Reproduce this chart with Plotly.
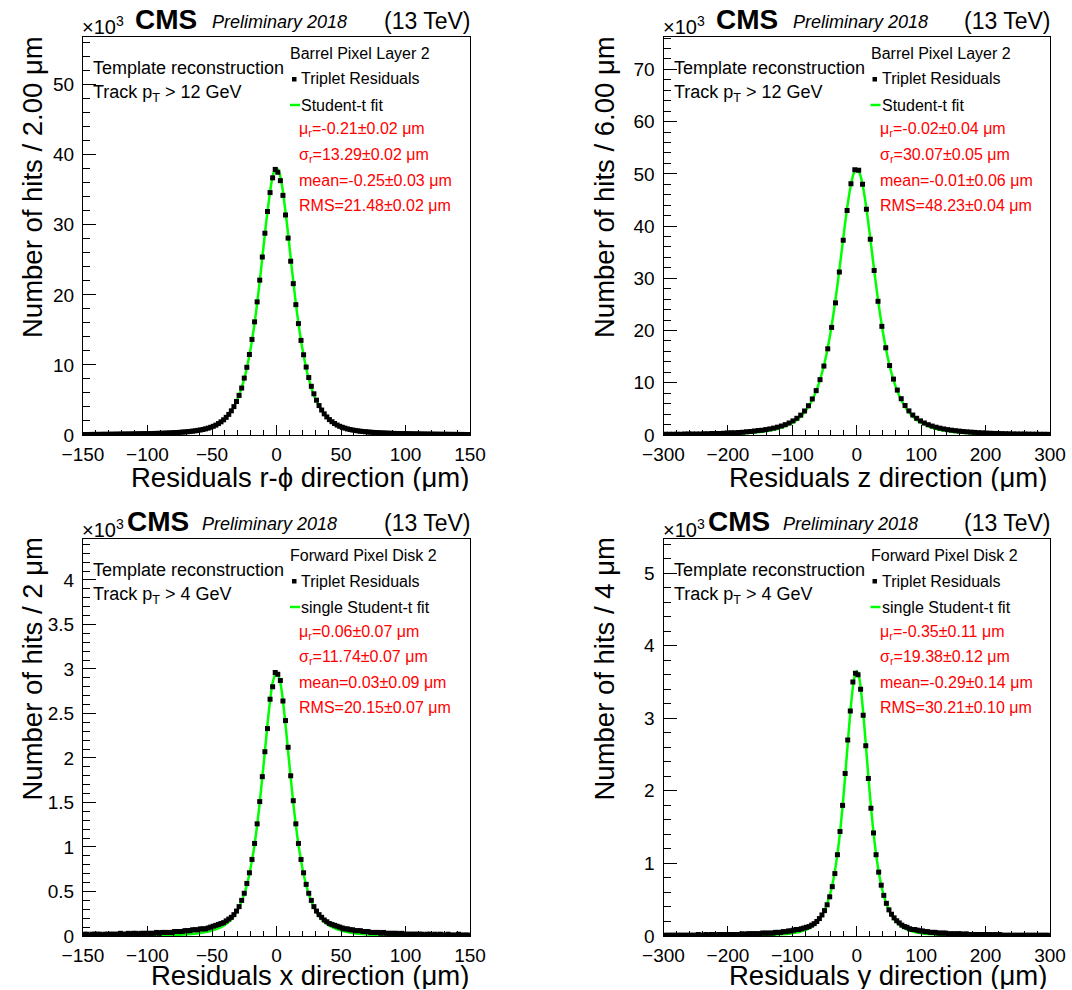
import numpy as np
import plotly.graph_objects as go

# ---------------- data (counts in units of 10^3 hits) ----------------
# Barrel layer 2, r-phi residuals: 150 bins of 2 um in [-150,150]
rphi_bin = (-150.0, 150.0, 2.0)
rphi_counts = [
    0.07, 0.07, 0.08, 0.08, 0.09, 0.09, 0.09, 0.10, 0.10, 0.10,
    0.11, 0.11, 0.12, 0.12, 0.13, 0.13, 0.14, 0.14, 0.15, 0.15,
    0.16, 0.17, 0.18, 0.19, 0.19, 0.20, 0.21, 0.22, 0.23, 0.24,
    0.25, 0.26, 0.28, 0.29, 0.31, 0.33, 0.35, 0.38, 0.41, 0.44,
    0.47, 0.51, 0.55, 0.60, 0.66, 0.72, 0.79, 0.88, 0.98,
    1.10, 1.24, 1.41, 1.63, 1.88, 2.17, 2.52, 2.94, 3.45, 4.05,
    4.78, 5.65, 6.70, 8.12, 9.66, 11.49, 13.64, 16.15, 19.00, 22.10,
    25.40, 28.80, 31.90, 34.60, 36.70, 37.90,
    37.50, 36.30, 34.20, 31.40, 28.10, 24.80, 21.60, 18.60, 15.90, 13.50,
    11.45, 9.70, 8.20, 6.95, 5.88, 4.97, 4.20, 3.56, 3.02, 2.58,
    2.20, 1.90, 1.64, 1.42, 1.24, 1.10,
    0.98, 0.87, 0.78, 0.71, 0.65, 0.59, 0.54, 0.50, 0.46, 0.43,
    0.40, 0.37, 0.35, 0.32, 0.30, 0.29, 0.27, 0.26, 0.24, 0.23,
    0.22, 0.21, 0.20, 0.19, 0.19, 0.18, 0.17, 0.16, 0.16, 0.15,
    0.14, 0.14, 0.13, 0.13, 0.12, 0.12, 0.11, 0.11, 0.10, 0.10,
    0.10, 0.09, 0.09, 0.09, 0.08, 0.08, 0.08, 0.07, 0.07,
]
rphi_fit_x = [-150, -120, -100, -80, -70, -60, -50, -44, -40, -36, -32, -28, -24, -20, -16, -12, -8, -4, -2,
              0, 2, 4, 8, 12, 16, 20, 24, 28, 32, 36, 40, 44, 50, 60, 70, 80, 100, 120, 150]
rphi_fit_y = [0.02, 0.048, 0.096, 0.22, 0.36, 0.63, 1.17, 1.76, 2.36, 3.21, 4.43, 6.20, 8.75, 12.37, 17.32, 23.56, 30.33, 35.9, 37.53,
              38.1, 37.53, 35.9, 30.33, 23.56, 17.32, 12.37, 8.75, 6.20, 4.43, 3.21, 2.36, 1.76, 1.17, 0.63, 0.36, 0.22, 0.096, 0.048, 0.02]

# Barrel layer 2, z residuals: 100 bins of 6 um in [-300,300]
z_bin = (-300.0, 300.0, 6.0)
z_counts = [
    0.13, 0.14, 0.14, 0.15, 0.16, 0.17, 0.18, 0.19, 0.20, 0.21,
    0.23, 0.25, 0.27, 0.29, 0.31, 0.34, 0.37, 0.41, 0.45, 0.50,
    0.55, 0.61, 0.68, 0.75, 0.84, 0.93, 1.04, 1.17, 1.32, 1.50,
    1.72, 1.98, 2.30, 2.70, 3.20, 3.80, 4.60, 5.60, 6.90, 8.50,
    10.60, 13.20, 16.50, 20.60, 25.30, 31.20, 37.30, 43.00, 48.10, 50.80,
    50.70, 48.00, 43.20, 37.50, 31.50, 25.60, 20.80, 16.70, 13.30, 10.70,
    8.60, 6.95, 5.65, 4.62, 3.82, 3.20, 2.70, 2.30, 1.97, 1.71,
    1.49, 1.31, 1.16, 1.03, 0.92, 0.83, 0.75, 0.67, 0.61, 0.55,
    0.50, 0.45, 0.41, 0.37, 0.34, 0.31, 0.29, 0.27, 0.25, 0.23,
    0.21, 0.20, 0.19, 0.18, 0.17, 0.16, 0.15, 0.14, 0.14, 0.13,
]
z_fit_x = [-300, -250, -200, -150, -120, -100, -90, -80, -70, -60, -50, -45, -40, -35, -30, -25, -20, -15, -10, -5,
           0, 5, 10, 15, 20, 25, 30, 35, 40, 45, 50, 60, 70, 80, 90, 100, 120, 150, 200, 250, 300]
z_fit_y = [0.044, 0.088, 0.205, 0.59, 1.28, 2.32, 3.20, 4.51, 6.46, 9.40, 13.78, 16.69, 20.14, 24.16, 28.7, 33.6, 38.66, 43.4, 47.3, 49.97,
           50.9, 49.97, 47.3, 43.4, 38.66, 33.6, 28.7, 24.16, 20.14, 16.69, 13.78, 9.40, 6.46, 4.51, 3.20, 2.32, 1.28, 0.59, 0.205, 0.088, 0.044]

# Forward disk 2, x residuals: 150 bins of 2 um in [-150,150]
fx_bin = (-150.0, 150.0, 2.0)
fx_counts = [
    0.02, 0.02, 0.01, 0.02, 0.02, 0.02, 0.02, 0.01, 0.02, 0.02,
    0.02, 0.02, 0.02, 0.02, 0.03, 0.02, 0.02, 0.03, 0.02, 0.03,
    0.03, 0.02, 0.03, 0.03, 0.03, 0.03, 0.03, 0.03, 0.04, 0.03,
    0.04, 0.04, 0.04, 0.04, 0.04, 0.05, 0.05, 0.05, 0.05, 0.06,
    0.06, 0.06, 0.07, 0.07, 0.07, 0.08, 0.08, 0.08, 0.09,
    0.10, 0.11, 0.12, 0.13, 0.14, 0.15, 0.17, 0.19, 0.21, 0.24,
    0.28, 0.33, 0.40, 0.48, 0.59, 0.71, 0.86, 1.04, 1.26, 1.51,
    1.79, 2.07, 2.33, 2.66, 2.80, 2.96,
    2.94, 2.87, 2.64, 2.42, 2.12, 1.80, 1.52, 1.26, 1.04, 0.86,
    0.71, 0.58, 0.48, 0.40, 0.33, 0.28, 0.24, 0.21, 0.18, 0.16,
    0.14, 0.13, 0.12, 0.11, 0.10, 0.09,
    0.08, 0.08, 0.07, 0.07, 0.06, 0.06, 0.06, 0.05, 0.05, 0.05,
    0.04, 0.04, 0.04, 0.04, 0.03, 0.04, 0.03, 0.03, 0.03, 0.03,
    0.03, 0.02, 0.03, 0.02, 0.02, 0.02, 0.02, 0.02, 0.02, 0.02,
    0.02, 0.01, 0.02, 0.02, 0.01, 0.02, 0.01, 0.02, 0.01, 0.01,
    0.02, 0.01, 0.01, 0.01, 0.02, 0.01, 0.01, 0.01, 0.01,
]
fx_fit_x = [-150, -100, -80, -60, -50, -40, -35, -30, -26, -22, -18, -14, -10, -6, -3,
            0, 3, 6, 10, 14, 18, 22, 26, 30, 35, 40, 50, 60, 80, 100, 150]
fx_fit_y = [0.001, 0.005, 0.011, 0.032, 0.060, 0.125, 0.189, 0.294, 0.428, 0.630, 0.934, 1.367, 1.926, 2.513, 2.845,
            2.97, 2.845, 2.513, 1.926, 1.367, 0.934, 0.630, 0.428, 0.294, 0.189, 0.125, 0.060, 0.032, 0.011, 0.005, 0.001]

# Forward disk 2, y residuals: 150 bins of 4 um in [-300,300]
fy_bin = (-300.0, 300.0, 4.0)
fy_counts = [
    0.01, 0.01, 0.01, 0.01, 0.01, 0.01, 0.01, 0.01, 0.01, 0.01,
    0.01, 0.01, 0.01, 0.02, 0.01, 0.01, 0.02, 0.01, 0.02, 0.02,
    0.01, 0.02, 0.02, 0.02, 0.02, 0.02, 0.02, 0.02, 0.02, 0.02,
    0.03, 0.02, 0.03, 0.03, 0.03, 0.03, 0.03, 0.03, 0.04, 0.04,
    0.04, 0.04, 0.04, 0.05, 0.05, 0.05, 0.06, 0.06, 0.07, 0.07,
    0.08, 0.09, 0.09, 0.10, 0.11, 0.12, 0.13, 0.15, 0.17, 0.20,
    0.24, 0.29, 0.35, 0.43, 0.54, 0.68, 0.86, 1.12, 1.44, 1.80,
    2.24, 2.70, 3.10, 3.50, 3.62,
    3.60, 3.40, 3.04, 2.62, 2.17, 1.76, 1.42, 1.12, 0.88, 0.70,
    0.56, 0.45, 0.36, 0.30, 0.25, 0.21, 0.18, 0.15, 0.13, 0.12,
    0.10, 0.09, 0.09, 0.08, 0.07, 0.07, 0.06, 0.06, 0.05, 0.05,
    0.05, 0.04, 0.04, 0.04, 0.04, 0.03, 0.03, 0.03, 0.03, 0.03,
    0.03, 0.02, 0.03, 0.02, 0.02, 0.02, 0.02, 0.02, 0.02, 0.02,
    0.02, 0.02, 0.01, 0.02, 0.01, 0.02, 0.01, 0.01, 0.01, 0.01,
    0.01, 0.01, 0.01, 0.01, 0.01, 0.01, 0.01, 0.01, 0.01, 0.01,
    0.01, 0.01, 0.01, 0.01, 0.01,
]
fy_fit_x = [-300, -200, -150, -100, -80, -70, -60, -50, -40, -35, -30, -25, -20, -16, -12, -8, -4,
            0, 4, 8, 12, 16, 20, 25, 30, 35, 40, 50, 60, 70, 80, 100, 150, 200, 300]
fy_fit_y = [0.0005, 0.003, 0.008, 0.037, 0.082, 0.128, 0.207, 0.352, 0.623, 0.838, 1.128, 1.510, 1.988, 2.424, 2.870, 3.268, 3.549,
            3.65, 3.549, 3.268, 2.870, 2.424, 1.988, 1.510, 1.128, 0.838, 0.623, 0.352, 0.207, 0.128, 0.082, 0.037, 0.008, 0.003, 0.0005]

# text content
ytitles = ["Number of hits / 2.00 \u03bcm", "Number of hits / 6.00 \u03bcm",
           "Number of hits / 2 \u03bcm", "Number of hits / 4 \u03bcm"]
xtitles = ["Residuals r-\u03d5 direction (\u03bcm)", "Residuals z direction (\u03bcm)",
           "Residuals x direction (\u03bcm)", "Residuals y direction (\u03bcm)"]
headers = ["Barrel Pixel Layer 2", "Barrel Pixel Layer 2", "Forward Pixel Disk 2", "Forward Pixel Disk 2"]
fitlabels = ["Student-t fit", "Student-t fit", "single Student-t fit", "single Student-t fit"]
ptcuts = ["Track p<sub>T</sub> > 12 GeV", "Track p<sub>T</sub> > 12 GeV",
          "Track p<sub>T</sub> > 4 GeV", "Track p<sub>T</sub> > 4 GeV"]
stats = [
    ["\u03bc<sub>r</sub>=-0.21\u00b10.02 \u03bcm", "\u03c3<sub>r</sub>=13.29\u00b10.02 \u03bcm",
     "mean=-0.25\u00b10.03 \u03bcm", "RMS=21.48\u00b10.02 \u03bcm"],
    ["\u03bc<sub>r</sub>=-0.02\u00b10.04 \u03bcm", "\u03c3<sub>r</sub>=30.07\u00b10.05 \u03bcm",
     "mean=-0.01\u00b10.06 \u03bcm", "RMS=48.23\u00b10.04 \u03bcm"],
    ["\u03bc<sub>r</sub>=0.06\u00b10.07 \u03bcm", "\u03c3<sub>r</sub>=11.74\u00b10.07 \u03bcm",
     "mean=0.03\u00b10.09 \u03bcm", "RMS=20.15\u00b10.07 \u03bcm"],
    ["\u03bc<sub>r</sub>=-0.35\u00b10.11 \u03bcm", "\u03c3<sub>r</sub>=19.38\u00b10.12 \u03bcm",
     "mean=-0.29\u00b10.14 \u03bcm", "RMS=30.21\u00b10.10 \u03bcm"],
]

# ---------------- layout ----------------
W, H = 1072, 990
FONT = "Liberation Sans, Arial, Helvetica, sans-serif"


def px(x):
    return x / W


def py(y):
    return 1 - y / H


def centers(b):
    lo, hi, w = b
    return np.arange(lo + w / 2, hi, w)


panels = [
    dict(bins=rphi_bin, counts=rphi_counts, fx=rphi_fit_x, fy=rphi_fit_y, xr=[-150, 150], xd=50, xm=10,
         yr=[0, 56.8], yd=10, ym=2, left=83, right=470, top=37, bottom=435),
    dict(bins=z_bin, counts=z_counts, fx=z_fit_x, fy=z_fit_y, xr=[-300, 300], xd=100, xm=20,
         yr=[0, 76.2], yd=10, ym=2, left=663.5, right=1050, top=37, bottom=435),
    dict(bins=fx_bin, counts=fx_counts, fx=fx_fit_x, fy=fx_fit_y, xr=[-150, 150], xd=50, xm=10,
         yr=[0, 4.46], yd=0.5, ym=0.1, left=83, right=470, top=539, bottom=936),
    dict(bins=fy_bin, counts=fy_counts, fx=fy_fit_x, fy=fy_fit_y, xr=[-300, 300], xd=100, xm=20,
         yr=[0, 5.47], yd=1, ym=0.2, left=663.5, right=1050, top=539, bottom=936),
]

fig = go.Figure()
layout = dict(width=W, height=H, autosize=False,
              margin=dict(l=0, r=0, t=0, b=0, pad=0, autoexpand=False), paper_bgcolor="white",
              plot_bgcolor="white", showlegend=False, font=dict(family=FONT, color="black"))

for i, p in enumerate(panels):
    k = "" if i == 0 else str(i + 1)
    xa, ya = "x" + k, "y" + k
    fig.add_trace(go.Scatter(x=p["fx"], y=p["fy"], mode="lines", xaxis=xa, yaxis=ya,
                             line=dict(color="#00ff00", width=2.5, shape="spline", smoothing=0.8),
                             hoverinfo="skip"))
    fig.add_trace(go.Scatter(x=centers(p["bins"]), y=p["counts"], mode="markers", xaxis=xa, yaxis=ya,
                             marker=dict(symbol="square", size=5, color="black", line=dict(width=0))))
    layout["xaxis" + k] = dict(
        domain=[px(p["left"]), px(p["right"])], range=p["xr"], anchor=ya, automargin=False,
        tick0=0, dtick=p["xd"], ticks="inside", ticklen=10, tickwidth=1, tickcolor="black",
        minor=dict(dtick=p["xm"], ticks="inside", ticklen=5, tickwidth=1, tickcolor="black"),
        showline=True, linecolor="black", linewidth=1, mirror=True,
        showgrid=False, zeroline=False, tickfont=dict(size=19, family=FONT, color="black"),
        ticklabelstandoff=2)
    layout["yaxis" + k] = dict(
        domain=[py(p["bottom"]), py(p["top"])], range=p["yr"], anchor=xa, automargin=False,
        tick0=0, dtick=p["yd"], ticks="inside", ticklen=13, tickwidth=1, tickcolor="black",
        minor=dict(dtick=p["ym"], ticks="inside", ticklen=7, tickwidth=1, tickcolor="black"),
        showline=True, linecolor="black", linewidth=1, mirror=True,
        showgrid=False, zeroline=False, tickfont=dict(size=19, family=FONT, color="black"),
        ticklabelstandoff=4)

fig.update_layout(**layout)


def add_text(x, y, text, size, color="black", xanchor="left", yanchor="middle", angle=0, height=None):
    kw = {}
    if height is not None:
        kw["height"] = height
    fig.add_annotation(x=px(x), y=py(y), xref="paper", yref="paper", text=text, showarrow=False,
                       font=dict(size=size, color=color, family=FONT), xanchor=xanchor,
                       yanchor=yanchor, textangle=angle, borderpad=0, **kw)


shapes = []
for i, p in enumerate(panels):
    dx = 0 if i % 2 == 0 else 580.5
    top = p["top"]
    row_top = i < 2
    add_text(p["left"] - 2, top - 11, "\u00d710<sup>3</sup>", 20)
    if row_top:
        add_text(134 + dx, top - 18, "<b>CMS</b>", 28)
        add_text(211 + dx, top - 15, "<i>Preliminary 2018</i>", 18)
    else:
        add_text(126 + dx, top - 18, "<b>CMS</b>", 28)
        add_text(201 + dx, top - 15, "<i>Preliminary 2018</i>", 18)
    add_text(p["right"] + 2, top - 16, "(13 TeV)", 23, xanchor="right")
    add_text(32 + (572 if i % 2 else 0), top - 2, ytitles[i], 27.5, xanchor="center", yanchor="top", angle=-90)
    add_text(p["right"] + (0 if i % 2 == 0 else -2), p["bottom"] + (42 if row_top else 39), xtitles[i], 27.5,
             xanchor="right", height=27)
    add_text(92 + dx, top + 31, "Template reconstruction", 18)
    add_text(92 + dx, top + 56, ptcuts[i], 18)
    add_text(289 + dx, top + 16, headers[i], 16)
    shapes.append(dict(type="rect", xref="paper", yref="paper",
                       x0=px(292 + dx), x1=px(296.5 + dx), y0=py(top + 44.5), y1=py(top + 40),
                       fillcolor="black", line=dict(width=0)))
    add_text(300 + dx, top + 42, "Triplet Residuals", 16)
    shapes.append(dict(type="line", xref="paper", yref="paper",
                       x0=px(290 + dx), x1=px(300 + dx), y0=py(top + 68), y1=py(top + 68),
                       line=dict(color="#00ff00", width=2.5)))
    add_text(300 + dx, top + 68, fitlabels[i], 16)
    for j, s in enumerate(stats[i]):
        add_text(298 + dx, top + 93 + 25 * j, s, 16, color="#ff0000")

fig.update_layout(shapes=shapes)
fig.write_html("out.html", config={"displayModeBar": False},
               post_script="document.body.style.margin='0';")
